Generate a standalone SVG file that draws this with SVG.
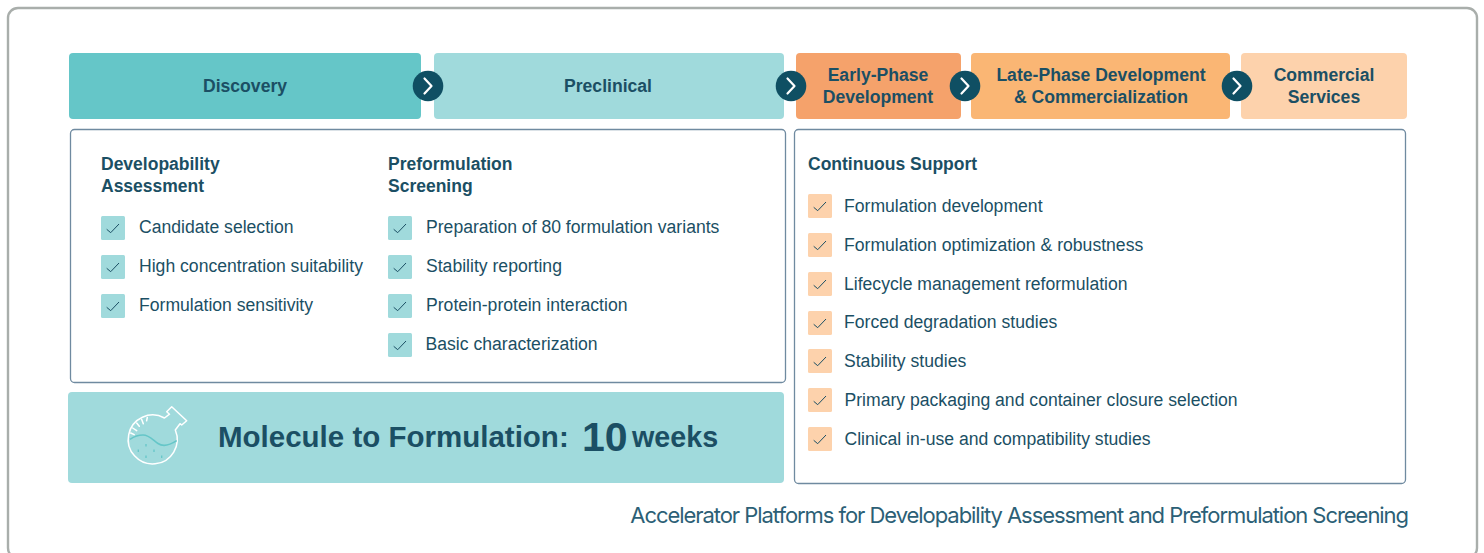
<svg xmlns="http://www.w3.org/2000/svg" width="1484" height="553" viewBox="0 0 1484 553">
<style>
text{font-family:"Liberation Sans",Arial,sans-serif;fill:#1b4f64}
.h{font-weight:700;font-size:17.6px;text-anchor:middle}
.t{font-weight:700;font-size:17.5px}
.b{font-size:17.6px}
.panel{fill:#fff;stroke:#6f8aa0;stroke-width:1.3}
.bt{fill:#a0dadc}
.bo{fill:#fdd2ac}
.ck{fill:none;stroke:#1b4f64;stroke-width:1}
.arr{fill:none;stroke:#fff;stroke-width:2.2;stroke-linecap:round;stroke-linejoin:round}
</style>
<defs>
<g id="cm"><path class="ck" d="M5.700 13.300l4 3.400 8.300-8.700"/></g>
<g id="chev"><circle r="15.300" fill="#0f4f63"/><path class="arr" d="M-3.500-7.500l7 7.500-7 7.500"/></g>
</defs>
<rect width="1484" height="553" fill="#fff"/>
<rect id="frame" x="8" y="8" width="1469" height="550" rx="10" fill="#fff" stroke="#a9aeab" stroke-width="2.400"/>
<g id="phase-discovery"><rect x="69" y="53" width="352" height="66" rx="4" fill="#65c6c8"/><text class="h" x="245" y="92">Discovery</text></g>
<g id="phase-preclinical"><rect x="434" y="53" width="350" height="66" rx="4" fill="#a0dadc"/><text class="h" x="608" y="92">Preclinical</text></g>
<g id="phase-early"><rect x="796" y="53" width="165" height="66" rx="4" fill="#f5a26b"/><text class="h" x="878" y="81">Early-Phase</text><text class="h" x="878" y="102.500">Development</text></g>
<g id="phase-late"><rect x="971" y="53" width="259" height="66" rx="4" fill="#fab674"/><text class="h" x="1101" y="81">Late-Phase Development</text><text class="h" x="1101" y="102.500">&amp; Commercialization</text></g>
<g id="phase-commercial"><rect x="1241" y="53" width="166" height="66" rx="4" fill="#fdd2ac"/><text class="h" x="1324" y="81">Commercial</text><text class="h" x="1324" y="102.500">Services</text></g>
<g id="connectors">
<use href="#chev" x="428" y="86"/><use href="#chev" x="791" y="86"/><use href="#chev" x="965" y="86"/><use href="#chev" x="1237" y="86"/>
</g>
<g id="panel-left">
<rect class="panel" x="70.500" y="129.500" width="715" height="253" rx="4"/>
<text class="t" x="101" y="170">Developability</text><text class="t" x="101" y="192">Assessment</text>
<text class="t" x="388" y="170">Preformulation</text><text class="t" x="388" y="192">Screening</text>
<rect class="bt" x="101" y="216" width="24" height="24" rx="1.500"/><use href="#cm" x="101" y="216"/><text class="b" x="139" y="233">Candidate selection</text>
<rect class="bt" x="101" y="255" width="24" height="24" rx="1.500"/><use href="#cm" x="101" y="255"/><text class="b" x="139" y="272">High concentration suitability</text>
<rect class="bt" x="101" y="294" width="24" height="24" rx="1.500"/><use href="#cm" x="101" y="294"/><text class="b" x="139" y="311">Formulation sensitivity</text>
<rect class="bt" x="388" y="216" width="24" height="24" rx="1.500"/><use href="#cm" x="388" y="216"/><text class="b" x="426" y="233">Preparation of 80 formulation variants</text>
<rect class="bt" x="388" y="255" width="24" height="24" rx="1.500"/><use href="#cm" x="388" y="255"/><text class="b" x="426" y="272">Stability reporting</text>
<rect class="bt" x="388" y="294" width="24" height="24" rx="1.500"/><use href="#cm" x="388" y="294"/><text class="b" x="426" y="311">Protein-protein interaction</text>
<rect class="bt" x="388" y="333" width="24" height="24" rx="1.500"/><use href="#cm" x="388" y="333"/><text class="b" x="425.500" y="349.500">Basic characterization</text>
</g>
<g id="banner">
<rect x="68" y="392" width="716" height="91" rx="4" fill="#a0dadc"/>
<g fill="none" stroke="#fff" stroke-width="1.500" stroke-linecap="round" stroke-linejoin="round">
<path d="M164.500 418A24.500 24.500 0 1 0 175.300 430L180 423.700 181.700 425 186.700 420.700 171.700 406.700 166.700 411.700 169.500 414.200Z"/>
<path d="M147.300 417.500l-.7 3.300M141.700 419.500l1.600 4.300M136.700 423l2.600 3.300M132.700 428l4 2.700M130.700 433l3.500 1.700"/>
</g>
<path d="M130 439.300C135 436 139 435 143 435C149 435 153 440 158 443.500C163 447 170 445 176.700 440.700" fill="none" stroke="#65c6c8" stroke-width="1.600"/>
<path d="M146 444v2.400M138.300 449.500v2.400M154 449.500v2.400M146 455.500v2.400M161.700 455.500v2.400" stroke="#65c6c8" stroke-width="1.300" fill="none"/>
<text x="218" y="447" font-size="29.500" font-weight="700">Molecule to Formulation:</text>
<text x="582" y="451" font-size="41" font-weight="700">10</text>
<text x="632" y="447" font-size="28.700" font-weight="700">weeks</text>
</g>
<g id="panel-right">
<rect class="panel" x="794.500" y="129.500" width="611" height="354" rx="4"/>
<text class="t" x="808" y="170">Continuous Support</text>
<rect class="bo" x="808" y="194" width="24" height="24" rx="1.500"/><use href="#cm" x="808" y="194"/><text class="b" x="844" y="212">Formulation development</text>
<rect class="bo" x="808" y="233" width="24" height="24" rx="1.500"/><use href="#cm" x="808" y="233"/><text class="b" x="844" y="250.500">Formulation optimization &amp; robustness</text>
<rect class="bo" x="808" y="272" width="24" height="24" rx="1.500"/><use href="#cm" x="808" y="272"/><text class="b" x="844" y="289.500">Lifecycle management reformulation</text>
<rect class="bo" x="808" y="311" width="24" height="24" rx="1.500"/><use href="#cm" x="808" y="311"/><text class="b" x="844" y="328">Forced degradation studies</text>
<rect class="bo" x="808" y="349" width="24" height="24" rx="1.500"/><use href="#cm" x="808" y="349"/><text class="b" x="844" y="367">Stability studies</text>
<rect class="bo" x="808" y="388" width="24" height="24" rx="1.500"/><use href="#cm" x="808" y="388"/><text class="b" x="844.500" y="406">Primary packaging and container closure selection</text>
<rect class="bo" x="808" y="427" width="24" height="24" rx="1.500"/><use href="#cm" x="808" y="427"/><text class="b" x="844.500" y="445">Clinical in-use and compatibility studies</text>
</g>
<text id="caption" x="1408" y="523" font-size="22" letter-spacing="-1.050" text-anchor="end" style="font-family:Inter,'Liberation Sans',sans-serif;fill:#2c5f76">Accelerator Platforms for Developability Assessment and Preformulation Screening</text>
</svg>
